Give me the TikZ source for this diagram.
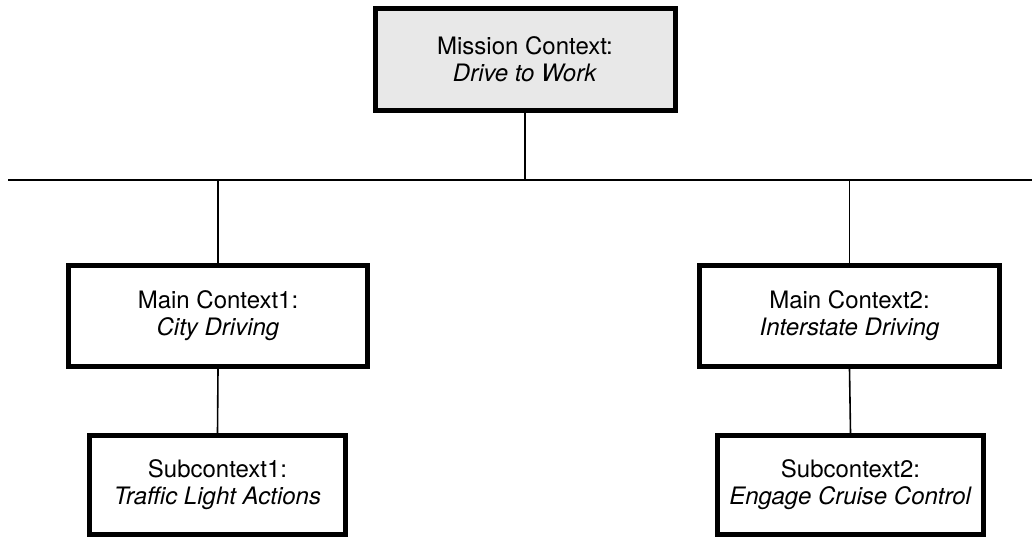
\documentclass[tikz,border=0pt]{standalone}
\usepackage{fontspec}
\setmainfont{TeX Gyre Heros}
\definecolor{boxgray}{gray}{0.91}
\begin{document}
\begin{tikzpicture}[x=1pt,y=-1pt,
  ctxbox/.style={draw=black, line width=5pt, fill=white, align=center,
    inner sep=0pt, font=\fontsize{24}{27}\selectfont},
  conn/.style={draw=black, line width=1.6pt}]
\useasboundingbox (0,0) rectangle (1032,540);
\node[ctxbox, fill=boxgray, minimum width=300pt, minimum height=102pt] (top) at (525,59.5)
  {Mission Context:\\\textit{Drive to Work}};
\node[ctxbox, minimum width=299pt, minimum height=101pt] (main1) at (218,316)
  {Main Context1:\\\textit{City Driving}};
\node[ctxbox, minimum width=300pt, minimum height=101pt] (main2) at (849.5,316)
  {Main Context2:\\\textit{Interstate Driving}};
\node[ctxbox, minimum width=256pt, minimum height=99pt] (sub1) at (217.5,485)
  {Subcontext1:\\\textit{Traffic Light Actions}};
\node[ctxbox, minimum width=266pt, minimum height=99pt] (sub2) at (850.5,485)
  {Subcontext2:\\\textit{Engage Cruise Control}};
\coordinate (hl) at (8,180);
\coordinate (hr) at (1032,180);
\draw[conn] (hl) -- (hr);
\draw[conn] (top.south) -- (top.south |- hl);
\draw[conn] (main1.north |- hl) -- (main1.north);
\draw[conn] (main2.north |- hl) -- (main2.north);
\draw[conn] (main1.south) -- (sub1.north);
\draw[conn] (main2.south) -- (sub2.north);
\end{tikzpicture}
\end{document}
